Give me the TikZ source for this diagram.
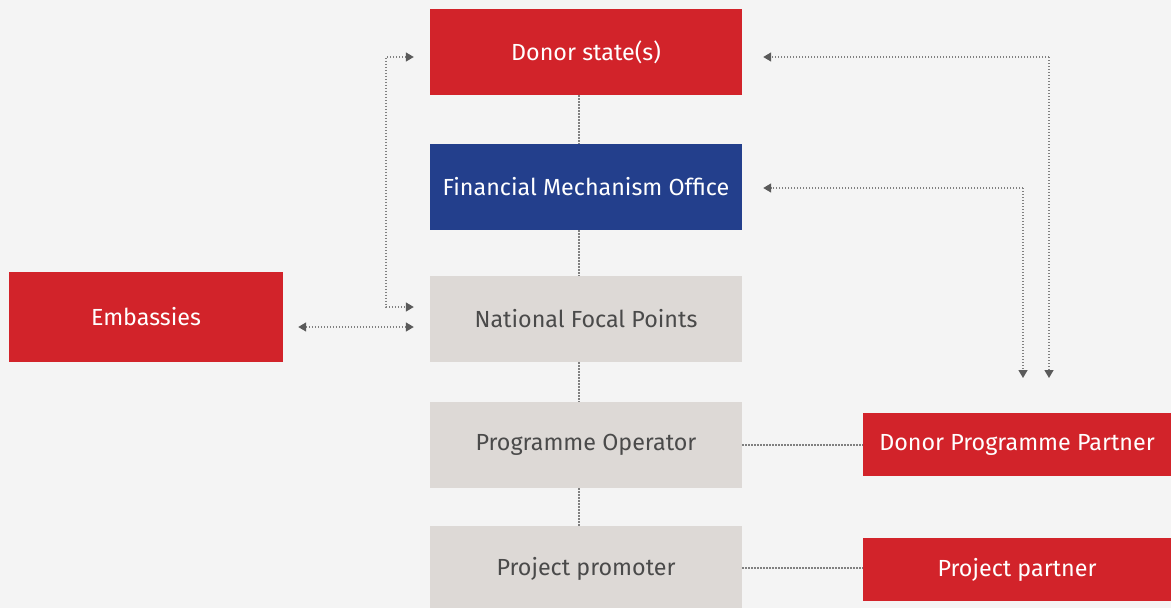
\documentclass[tikz,border=0pt]{standalone}
\usepackage{fontspec}
\setmainfont{Fira Sans}
\usetikzlibrary{arrows.meta,calc}
\definecolor{bg}{HTML}{F4F4F4}
\definecolor{dred}{HTML}{D2232A}
\definecolor{dblue}{HTML}{233F8C}
\definecolor{lgrey}{HTML}{DDD9D6}
\definecolor{tgrey}{HTML}{4A4A4A}
\definecolor{lgr}{HTML}{808080}
\definecolor{agr}{HTML}{5A5A5A}
\tikzset{
  box/.style={inner sep=0pt, minimum width=312pt, minimum height=86pt, font=\fontsize{23.3}{26}\selectfont},
  redbox/.style={box, fill=dred, text=white},
  bluebox/.style={box, fill=dblue, text=white},
  greybox/.style={box, fill=lgrey, text=tgrey},
  dots/.style={draw=lgr, line width=1.4pt, dash pattern=on 1.4pt off 1.6pt},
  arr/.style={dots, -{Triangle[length=8pt,width=9pt,color=agr]}},
  darr/.style={dots, {Triangle[length=8pt,width=9pt,color=agr]}-{Triangle[length=8pt,width=9pt,color=agr]}}
}
\begin{document}
\begin{tikzpicture}[x=1pt,y=-1pt]
\fill[bg] (0,0) rectangle (1171,608);
\useasboundingbox (0,0) rectangle (1171,608);
\node[redbox] (ds) at (586,52) {Donor state(s)};
\node[bluebox] (fmo) at (586,187) {Financial Mechanism Office};
\node[greybox] (nfp) at (586,319) {National Focal Points};
\node[greybox] (po) at (586,445) {Programme Operator};
\node[greybox] (pp) at (586,569) {Project promoter};
\node[redbox, minimum width=274pt, minimum height=90pt] (emb) at (146,317) {Embassies};
\node[redbox, minimum width=308pt, minimum height=63pt] (dpp) at (1017,444.5) {Donor Programme Partner};
\node[redbox, minimum width=308pt, minimum height=63pt] (ppa) at (1017,569.5) {Project partner};
% vertical center connectors
\draw[dots] ([xshift=-7pt]ds.south) -- ([xshift=-7pt]fmo.north);
\draw[dots] ([xshift=-7pt]fmo.south) -- ([xshift=-7pt]nfp.north);
\draw[dots] ([xshift=-7pt]nfp.south) -- ([xshift=-7pt]po.north);
\draw[dots] ([xshift=-7pt]po.south) -- ([xshift=-7pt]pp.north);
% horizontal partner links
\draw[dots] (po.east) -- (po.east -| dpp.west);
\draw[dots] ([yshift=1pt]pp.east) -- ([yshift=1pt]pp.east -| ppa.west);
% left loop donor state - NFP
\coordinate (dsl) at ($(ds.west)+(-16,5)$);
\coordinate (nfpl) at ($(nfp.west)+(-16,-12)$);
\draw[darr] (dsl) -- (dsl -| 386,0) -- (nfpl -| 386,0) -- (nfpl);
% embassies
\coordinate (embr) at ($(emb.east)+(15,10)$);
\coordinate (nfpe) at ($(nfp.west)+(-16,8)$);
\draw[darr] (embr) -- (nfpe);
% right arrows
\coordinate (dsr) at ($(ds.east)+(21,5)$);
\coordinate (fmor) at ($(fmo.east)+(21,1)$);
\coordinate (d1) at (1049,378);
\coordinate (d2) at (1023,378);
\draw[arr] (dsr -| d1) -- (d1);
\draw[arr] (dsr -| d1) -- (dsr);
\draw[arr] (fmor -| d2) -- (d2);
\draw[arr] (fmor -| d2) -- (fmor);
\end{tikzpicture}
\end{document}
